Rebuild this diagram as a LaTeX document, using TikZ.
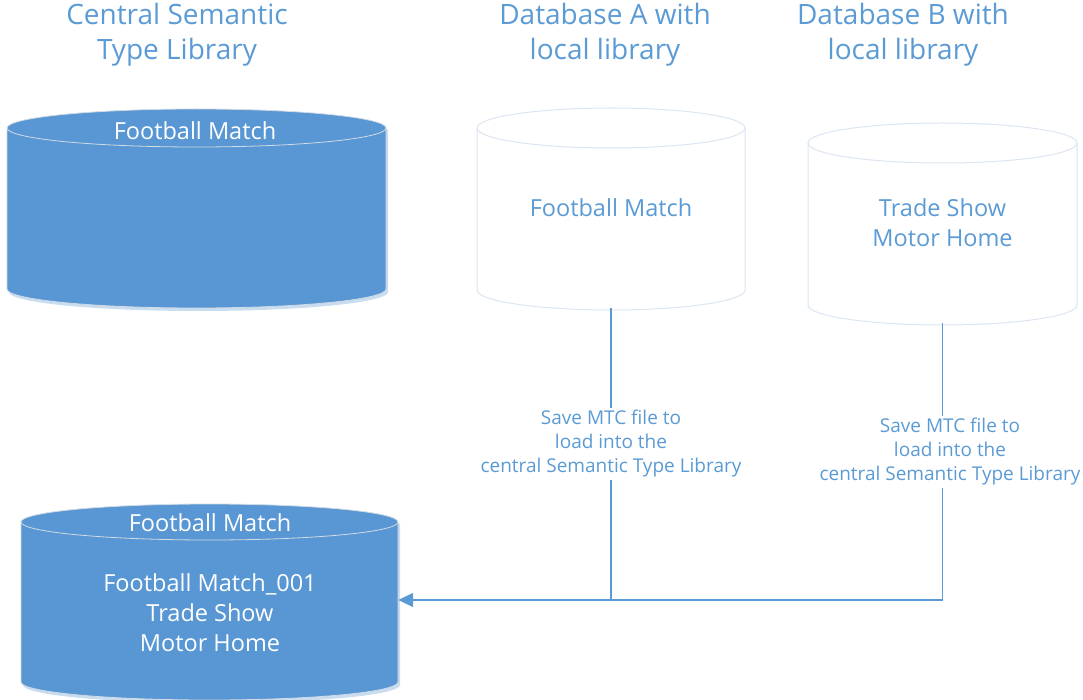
\documentclass[tikz,border=0pt]{standalone}
\usepackage{fontspec}
\setmainfont{Open Sans}
\usetikzlibrary{arrows.meta}
\definecolor{cfill}{HTML}{5897D3}
\definecolor{ctext}{HTML}{5B9BD5}
\definecolor{cline}{HTML}{5B9BD5}
\definecolor{cpale}{HTML}{DCE6F2}
\definecolor{cedge}{HTML}{D2DAE3}
\definecolor{cshadow}{HTML}{C9DDF0}
\newcommand\mycyl[6]{%
  \pgfmathsetmacro\myrx{(#2-#1)/2}%
  \path[#6] (#1,-#3) -- (#1,-#4) arc[start angle=180,end angle=360,x radius=\myrx,y radius=#5] -- (#2,-#3) arc[start angle=0,end angle=180,x radius=\myrx,y radius=#5] -- cycle;
  \path[#6,fill=none] (#1,-#3) arc[start angle=180,end angle=360,x radius=\myrx,y radius=#5];
}
\tikzset{
  filledcyl/.style={fill=cfill,draw=cedge,line width=0.8pt},
  palecyl/.style={fill=white,draw=cpale,line width=1pt},
  shadowcyl/.style={fill=cshadow,draw=none},
  title/.style={text=ctext,font=\fontsize{28}{35}\selectfont,align=center,inner sep=0pt},
  whitetxt/.style={text=white,font=\fontsize{23.5}{30}\selectfont,align=center,inner sep=0pt},
  bluetxt/.style={text=ctext,font=\fontsize{23.5}{30}\selectfont,align=center,inner sep=0pt},
  lbl/.style={text=ctext,font=\fontsize{19}{24}\selectfont,align=center,fill=white,inner sep=2pt},
  conn/.style={draw=cline,line width=1.6pt},
  box/.style={shape=rectangle,inner sep=0pt,draw=none}
}
\begin{document}
\begin{tikzpicture}[x=1pt,y=1pt]
\useasboundingbox (0,0) rectangle (1083,-700);
% titles
\node[title] (t1) at (177,-35) {Central Semantic\\Type Library};
\node[title] (t2) at (605,-35) {Database A with\\local library};
\node[title] (t3) at (903,-35) {Database B with\\local library};
% shadows
\mycyl{9}{388}{131}{292}{19}{shadowcyl}
\mycyl{23}{400}{525}{685}{18}{shadowcyl}
% cylinders
\mycyl{7}{386}{128}{289}{19}{filledcyl}
\mycyl{21}{398}{522}{682}{18}{filledcyl}
\mycyl{477}{745}{128}{290}{20}{palecyl}
\mycyl{808}{1077}{143}{305}{20}{palecyl}
% nodes
\node[box,minimum width=379pt,minimum height=199pt] (lib1) at (196.5,-207.5) {};
\node[box,minimum width=377pt,minimum height=197pt] (lib2) at (209.5,-601.5) {};
\node[box,minimum width=268pt,minimum height=200pt] (dbA) at (611,-208) {};
\node[box,minimum width=269pt,minimum height=200pt] (dbB) at (942.5,-223) {};
\node[whitetxt] (lib1t) at (195,-131) {Football Match};
\node[whitetxt] (lib2t) at (210,-523) {Football Match};
\node[whitetxt] (lib2c) at (210,-613) {Football Match\_001\\Trade Show\\Motor Home};
\node[bluetxt] (dbAt) at (dbA.center) {Football Match};
\node[bluetxt] (dbBt) at (dbB.center) {Trade Show\\Motor Home};
% connectors
\coordinate (j) at (dbA.south |- 0,-600);
\coordinate (tip) at (lib2.east |- j);
\draw[conn] (dbA.south) -- (j);
\draw[conn,-{Triangle[length=15pt,width=14pt]}] (dbB.south) |- (j) -- (tip);
\node[lbl] (lA) at (611,-444) {Save MTC file to\\load into the\\central Semantic Type Library};
\node[lbl] (lB) at (950,-452) {Save MTC file to\\load into the\\central Semantic Type Library};
\end{tikzpicture}
\end{document}
